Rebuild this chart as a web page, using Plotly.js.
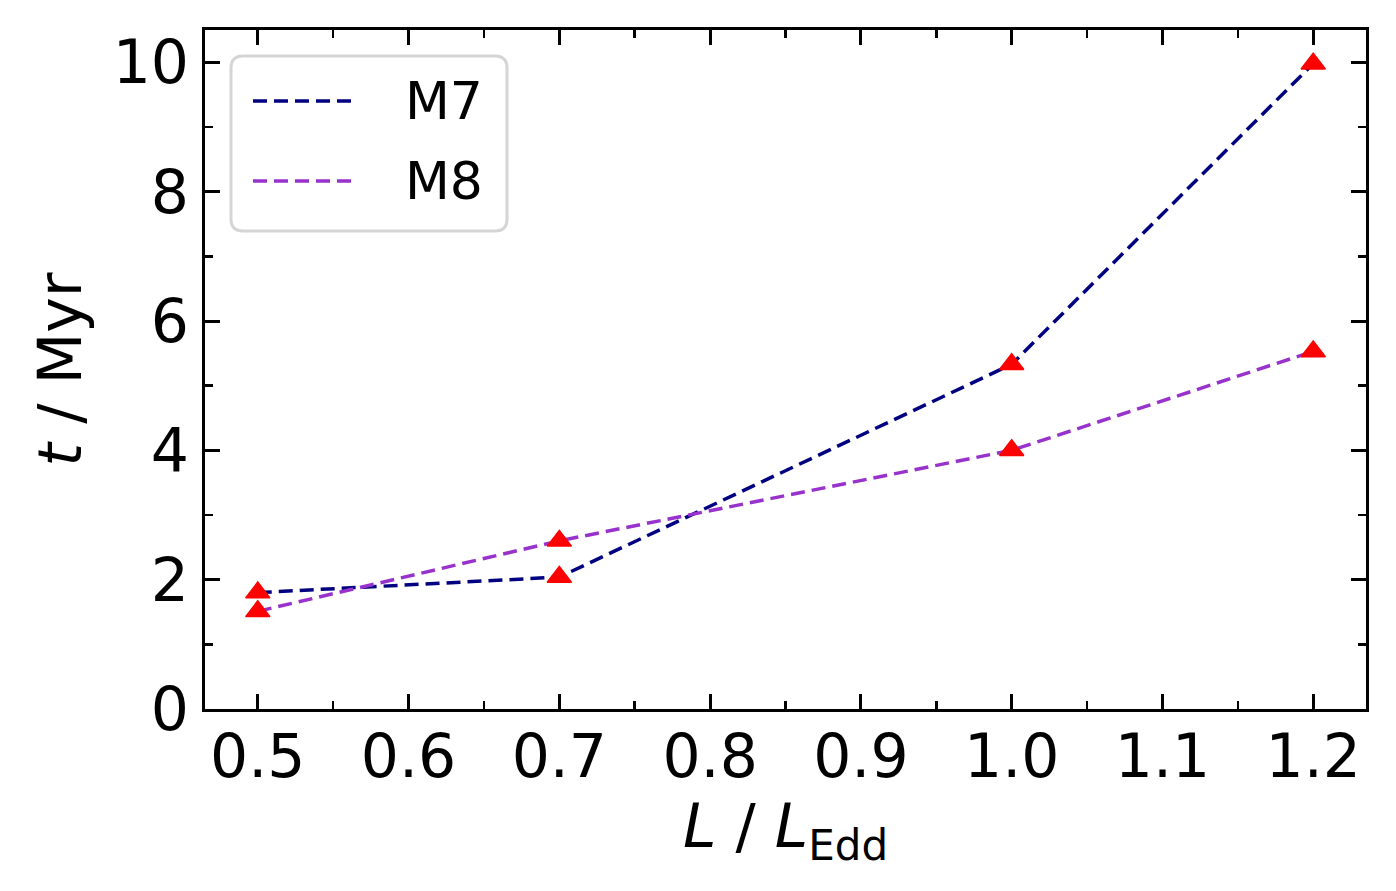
<!DOCTYPE html>
<html>
<head>
<meta charset="utf-8">
<script src="https://cdn.plot.ly/plotly-3.0.1.min.js"></script>
<style>html,body{margin:0;padding:0;background:#fff;}#chart{width:1396px;height:891px;}</style>
</head>
<body>
<div id="chart"></div>
<script>
// Data
const xValues = [0.5, 0.7, 1.0, 1.2];
const seriesNames = ["M7", "M8"];
const m7Values = [1.8, 2.04, 5.33, 9.98];
const m8Values = [1.51, 2.6, 4.0, 5.53];
const seriesColors = ["#000080", "#9932CC"];
const xTickValues = [0.5, 0.6, 0.7, 0.8, 0.9, 1.0, 1.1, 1.2];
const yTickValues = [0, 2, 4, 6, 8, 10];

const allSeries = [m7Values, m8Values];
const FONT = "DejaVu Sans, Liberation Sans, sans-serif";

const traces = [];
allSeries.forEach((vals, i) => {
  traces.push({
    x: xValues, y: vals, type: "scatter", mode: "lines", name: seriesNames[i],
    line: {color: seriesColors[i], width: 3.5, dash: "14px,7px"},
    showlegend: false, hoverinfo: "skip"
  });
});
allSeries.forEach((vals, i) => {
  traces.push({
    x: xValues, y: vals, type: "scatter", mode: "markers", name: seriesNames[i] + " points",
    marker: {symbol: "triangle-up", size: 21, color: "red", line: {color: "red", width: 1.5}},
    showlegend: false
  });
});

// Legend drawn in paper coordinates (rounded box, long dashed samples)
const plotL = 205, plotR = 1366, plotT = 30, plotB = 709;
const pw = plotR - plotL, ph = plotB - plotT;
const px = v => (v - plotL) / pw;
const py = v => 1 - (v - plotT) / ph;
const bx0 = 231, bx1 = 507, by0 = 56, by1 = 231, rad = 12;
const boxPath =
  `M${px(bx0 + rad)},${py(by0)} L${px(bx1 - rad)},${py(by0)} Q${px(bx1)},${py(by0)} ${px(bx1)},${py(by0 + rad)} ` +
  `L${px(bx1)},${py(by1 - rad)} Q${px(bx1)},${py(by1)} ${px(bx1 - rad)},${py(by1)} ` +
  `L${px(bx0 + rad)},${py(by1)} Q${px(bx0)},${py(by1)} ${px(bx0)},${py(by1 - rad)} ` +
  `L${px(bx0)},${py(by0 + rad)} Q${px(bx0)},${py(by0)} ${px(bx0 + rad)},${py(by0)} Z`;

const legendRows = [101, 181];
const shapes = [{
  type: "path", xref: "paper", yref: "paper", path: boxPath,
  line: {color: "#d5d5d5", width: 3}, fillcolor: "rgba(255,255,255,0.8)", layer: "above"
}];
const annotations = [];
seriesNames.forEach((nm, i) => {
  shapes.push({
    type: "line", xref: "paper", yref: "paper",
    x0: px(253), x1: px(357), y0: py(legendRows[i]), y1: py(legendRows[i]),
    line: {color: seriesColors[i], width: 3.5, dash: "14px,7px"}, layer: "above"
  });
  annotations.push({
    xref: "paper", yref: "paper", x: px(403), y: py(legendRows[i]),
    xanchor: "left", yanchor: "middle", showarrow: false, text: nm,
    font: {family: FONT, size: 52, color: "#000"}
  });
});

const axisCommon = {
  showline: true, linecolor: "#000", linewidth: 3, mirror: "ticks",
  ticks: "inside", ticklen: 15, tickwidth: 3, tickcolor: "#000",
  showgrid: false, zeroline: false,
  tickfont: {family: FONT, size: 60, color: "#000"}
};

const layout = {
  width: 1396, height: 891,
  margin: {l: plotL, r: 1396 - plotR, t: plotT, b: 891 - plotB},
  paper_bgcolor: "#fff", plot_bgcolor: "#fff",
  showlegend: false,
  xaxis: Object.assign({}, axisCommon, {
    range: [0.465, 1.235], tickvals: xTickValues, tickformat: ".1f",
    ticklabelstandoff: -7,
    minor: {dtick: 0.05, ticks: "inside", ticklen: 8, tickwidth: 2.5, tickcolor: "#000", showgrid: false},
    title: {text: "<i>L</i> / <i>L</i><sub>Edd</sub>", font: {family: FONT, size: 60, color: "#000"}, standoff: 6}
  }),
  yaxis: Object.assign({}, axisCommon, {
    range: [0, 10.5], tickvals: yTickValues,
    ticklabelstandoff: 1,
    minor: {dtick: 1, ticks: "inside", ticklen: 8, tickwidth: 2.5, tickcolor: "#000", showgrid: false},
    title: {text: "<i>t</i> / Myr", font: {family: FONT, size: 60, color: "#000"}, standoff: 12}
  }),
  shapes: shapes,
  annotations: annotations
};

Plotly.newPlot("chart", traces, layout, {staticPlot: true, displayModeBar: false});
</script>
</body>
</html>
